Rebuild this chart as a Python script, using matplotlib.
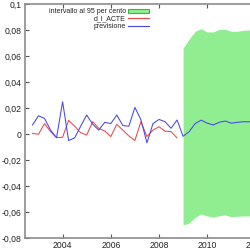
import numpy as np
import matplotlib
matplotlib.use("Agg")
import matplotlib.pyplot as plt
from matplotlib.patches import Patch
from matplotlib.lines import Line2D

plt.rcParams['font.family'] = ['Liberation Sans', 'DejaVu Sans']

# quarterly data starting 2002:4
start_year = 2002.75
d_l_acte = [0.0005, -0.0002, 0.008, 0.0018, -0.0028, -0.0025, 0.0105, 0.006, 0.001, -0.0008,
            0.0095, 0.0044, 0.0023, -0.002, 0.0075, 0.003, -0.0015, -0.005, 0.0095, -0.002,
            0.003, 0.0056, 0.0022, 0.0018, -0.003]
previsione = [0.0069, 0.014, 0.012, 0.003, -0.0028, 0.0248, -0.005, -0.003, 0.006, 0.0146,
              0.0075, 0.003, 0.009, 0.008, 0.0146, 0.0065, 0.006, 0.0205, 0.011, -0.0068,
              0.008, 0.0112, 0.0095, 0.0044, 0.0108,
              -0.0018, 0.0018, 0.008, 0.0107, 0.0083, 0.007, 0.009, 0.01, 0.0083, 0.009,
              0.0094, 0.0094, 0.0094]
forecast_start = 2009.0
upper95 = [0.066, 0.073, 0.079, 0.081, 0.0785, 0.0785, 0.0805, 0.0805, 0.079, 0.079, 0.0798, 0.080, 0.080]
lower95 = [-0.070, -0.0685, -0.064, -0.0615, -0.063, -0.064, -0.0628, -0.0623, -0.0636, -0.0633,
           -0.063, -0.063, -0.063]

yticks = [-0.08, -0.06, -0.04, -0.02, 0, 0.02, 0.04, 0.06, 0.08, 0.1]
ytick_labels = ['-0,08', '-0,06', '-0,04', '-0,02', '0', '0,02', '0,04', '0,06', '0,08', '0,1']
xticks = [2004, 2006, 2008, 2010, 2012]
xtick_labels = ['2004', '2006', '2008', '2010', '2012']

t_act = start_year + 0.25 * np.arange(len(d_l_acte))
t_prev = start_year + 0.25 * np.arange(len(previsione))
t_band = forecast_start + 0.25 * np.arange(len(upper95))

fig = plt.figure(figsize=(2.5, 2.5), dpi=100)
x0, x1 = 2002.44, 2012.5
pxyr = 24.1
ax = fig.add_axes([25 / 250, 12 / 250, (x1 - x0) * pxyr / 250, 234 / 250])

green = '#90ee90'
red = '#f04646'
blue = '#4646f0'

ax.fill_between(t_band, lower95, upper95, color=green, linewidth=0, zorder=1)
ax.plot(t_act, d_l_acte, color=red, lw=0.75, zorder=2)
ax.plot(t_prev, previsione, color=blue, lw=0.75, zorder=3)

ax.set_xlim(x0, x1)
ax.set_ylim(-0.08, 0.1)
ax.set_yticks(yticks)
ax.set_yticklabels(ytick_labels)
ax.set_xticks(xticks)
ax.set_xticklabels(xtick_labels)

for s in ax.spines.values():
    s.set_color('#8c8c8c')
    s.set_linewidth(1.2)

ax.tick_params(axis='both', direction='in', length=3, width=0.8, color='#555555',
               labelsize=6.2, labelcolor='#222222', top=True, right=True)
ax.tick_params(axis='y', pad=2.5)
ax.tick_params(axis='x', pad=2.5)

handles = [Patch(facecolor=green, edgecolor='#2fbf2f', linewidth=0.8),
           Line2D([], [], color=red, lw=0.8),
           Line2D([], [], color=blue, lw=0.8)]
labels = ['intervallo al 95 per cento', 'd_l_ACTE', 'previsione']
leg = fig.legend(handles, labels, loc='upper right', bbox_to_anchor=(150 / 250, 1 - 7 / 250),
                 frameon=False, markerfirst=False, fontsize=5, labelspacing=0.05,
                 handlelength=2.9, handleheight=0.6, handletextpad=0.4, borderpad=0.2,
                 borderaxespad=0)
for txt in leg.get_texts():
    txt.set_color('#222222')

fig.savefig('out.png', dpi=100)
